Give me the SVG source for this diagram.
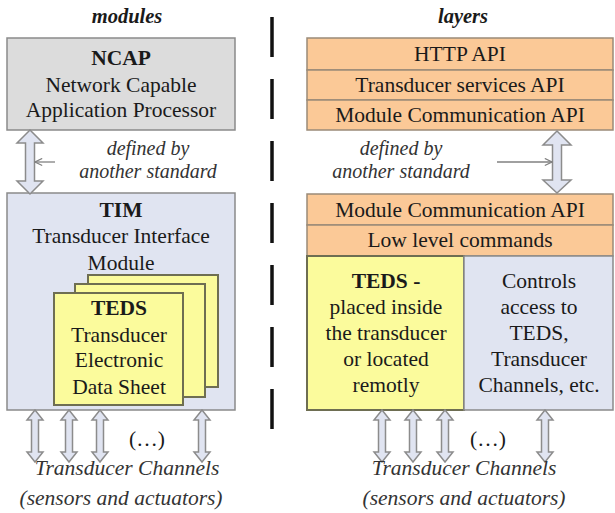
<svg xmlns="http://www.w3.org/2000/svg" width="615" height="513" viewBox="0 0 615 513">
<style>
.t{font-family:"Liberation Serif","Times New Roman",serif;font-size:21.5px;fill:#1a1a1a;text-anchor:middle}
.b{font-weight:bold}
.i{font-style:italic;fill:#333}
.s{font-size:20px}
.h{font-style:italic;font-weight:bold;font-size:20.5px}
.gray{fill:#dcdcdc;stroke:#8a8a8a;stroke-width:1.5}
.blue{fill:#e0e4f1;stroke:#8a8a8a;stroke-width:1.5}
.org{fill:#fbc997;stroke:#9a8a78;stroke-width:1.5}
.yel{fill:#fbfb9c;stroke:#6e6e52;stroke-width:2}
.arr{fill:#e0e4f1;stroke:#8c8c8c;stroke-width:1.5;stroke-linejoin:miter}
.thin{stroke:#808080;stroke-width:1.3;fill:none}
</style>
<defs>
<marker id="open" viewBox="0 0 10 10" refX="9" refY="5" markerWidth="9" markerHeight="9" markerUnits="userSpaceOnUse" orient="auto">
<path d="M1,1 L9,5 L1,9" fill="none" stroke="#808080" stroke-width="1.3"/>
</marker>
</defs>

<text class="t h" x="127" y="23">modules</text>
<text class="t h" x="463" y="23">layers</text>

<line x1="272" y1="17" x2="272" y2="430" stroke="#111" stroke-width="3.5" stroke-dasharray="40 22"/>

<g id="ncap">
<rect class="gray" x="7" y="38" width="228" height="92"/>
<text class="t b" x="121" y="65">NCAP</text>
<text class="t" x="121" y="92">Network Capable</text>
<text class="t" x="121" y="117">Application Processor</text>
</g>

<g id="tim">
<rect class="blue" x="7" y="193" width="228" height="217"/>
<text class="t b" x="121" y="217">TIM</text>
<text class="t" x="121" y="243">Transducer Interface</text>
<text class="t" x="121" y="270">Module</text>
</g>

<g id="teds-stack">
<rect class="yel" x="88" y="275" width="130" height="112"/>
<rect class="yel" x="75" y="284" width="130" height="113"/>
<rect class="yel" x="54" y="293" width="129" height="112"/>
<text class="t b" x="119" y="315">TEDS</text>
<text class="t" x="119" y="342">Transducer</text>
<text class="t" x="119" y="367">Electronic</text>
<text class="t" x="119" y="394">Data Sheet</text>
</g>

<g id="http-api">
<rect class="org" x="307" y="38" width="306" height="32"/>
<text class="t" x="460" y="61">HTTP API</text>
</g>
<g id="transducer-services-api">
<rect class="org" x="307" y="70" width="306" height="30"/>
<text class="t" x="460" y="92">Transducer services API</text>
</g>
<g id="module-comm-api-top">
<rect class="org" x="307" y="100" width="306" height="30"/>
<text class="t" x="460" y="122">Module Communication API</text>
</g>
<g id="module-comm-api-bottom">
<rect class="org" x="307" y="194" width="306" height="31"/>
<text class="t" x="460" y="217">Module Communication API</text>
</g>
<g id="low-level-commands">
<rect class="org" x="307" y="225" width="306" height="31"/>
<text class="t" x="460" y="247">Low level commands</text>
</g>
<g id="teds-layer">
<rect class="yel" x="307" y="256" width="157" height="154" stroke-width="1.5"/>
<text class="t b" x="386" y="288">TEDS -</text>
<text class="t" x="386" y="314">placed inside</text>
<text class="t" x="386" y="340">the transducer</text>
<text class="t" x="386" y="366">or located</text>
<text class="t" x="386" y="392">remotly</text>
</g>
<g id="controls-layer">
<rect class="blue" x="464" y="256" width="149" height="154"/>
<text class="t" x="539" y="288">Controls</text>
<text class="t" x="539" y="314">access to</text>
<text class="t" x="539" y="340">TEDS,</text>
<text class="t" x="539" y="366">Transducer</text>
<text class="t" x="539" y="392">Channels, etc.</text>
</g>

<g id="connectors">
<path class="arr" d="M30,130 L43,143 L34.5,143 L34.5,181 L43,181 L30,194 L17,181 L25.5,181 L25.5,143 L17,143 Z"/>
<path class="arr" d="M557,131 L571,145 L561.5,145 L561.5,180 L571,180 L557,193 L543,180 L552.5,180 L552.5,145 L543,145 Z"/>
<line class="thin" x1="55" y1="162" x2="35" y2="162" marker-end="url(#open)"/>
<line class="thin" x1="497" y1="162" x2="552" y2="162" marker-end="url(#open)"/>

<path class="arr" d="M35,410 L43,420 L38.5,420 L38.5,452 L43,452 L35,462 L27,452 L31.5,452 L31.5,420 L27,420 Z"/>
<path class="arr" d="M69,410 L77,420 L72.5,420 L72.5,452 L77,452 L69,462 L61,452 L65.5,452 L65.5,420 L61,420 Z"/>
<path class="arr" d="M100,410 L108,420 L103.5,420 L103.5,452 L108,452 L100,462 L92,452 L96.5,452 L96.5,420 L92,420 Z"/>
<path class="arr" d="M202,410 L210,420 L205.5,420 L205.5,452 L210,452 L202,462 L194,452 L198.5,452 L198.5,420 L194,420 Z"/>

<path class="arr" d="M382,410 L390,420 L385.5,420 L385.5,452 L390,452 L382,462 L374,452 L378.5,452 L378.5,420 L374,420 Z"/>
<path class="arr" d="M413,410 L421,420 L416.5,420 L416.5,452 L421,452 L413,462 L405,452 L409.5,452 L409.5,420 L405,420 Z"/>
<path class="arr" d="M445,410 L453,420 L448.5,420 L448.5,452 L453,452 L445,462 L437,452 L441.5,452 L441.5,420 L437,420 Z"/>
<path class="arr" d="M545,410 L553,420 L548.5,420 L548.5,452 L553,452 L545,462 L537,452 L541.5,452 L541.5,420 L537,420 Z"/>
</g>

<text class="t i s" x="148" y="155">defined by</text>
<text class="t i s" x="148" y="178">another standard</text>
<text class="t i s" x="401" y="155">defined by</text>
<text class="t i s" x="401" y="178">another standard</text>

<text class="t" x="147" y="446">(…)</text>
<text class="t" x="488" y="446">(…)</text>

<text class="t i" x="127" y="475">Transducer Channels</text>
<text class="t i" x="121" y="505">(sensors and actuators)</text>
<text class="t i" x="464" y="475">Transducer Channels</text>
<text class="t i" x="464" y="505">(sensors and actuators)</text>
</svg>
